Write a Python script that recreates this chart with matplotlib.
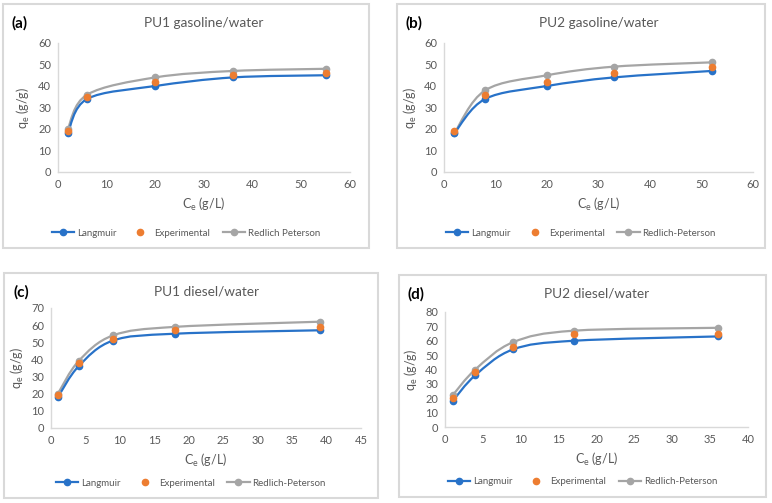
import matplotlib
matplotlib.use("Agg")
import matplotlib.pyplot as plt
from matplotlib.path import Path
from matplotlib.patches import PathPatch, Rectangle
from matplotlib.lines import Line2D
import numpy as np

plt.rcParams['font.family'] = ['Lato', 'DejaVu Sans']
plt.rcParams['mathtext.default'] = 'regular'

# ---------------- data ----------------
titles = ["PU1 gasoline/water", "PU2 gasoline/water", "PU1 diesel/water", "PU2 diesel/water"]
letters = ["(a)", "(b)", "(c)", "(d)"]

x_a = [2, 6, 20, 36, 55]
lang_a = [18, 34, 40, 44, 45]
exp_a = [19, 35, 42, 45, 46]
rp_a = [20, 36, 44, 47, 48]

x_b = [2, 8, 20, 33, 52]
lang_b = [18, 34, 40, 44, 47]
exp_b = [19, 36, 42, 46, 49]
rp_b = [18, 38, 45, 49, 51]

x_c = [1, 4, 9, 18, 39]
lang_c = [18, 36, 51, 55, 57]
exp_c = [19, 38, 52, 57, 59]
rp_c = [20, 39, 54, 59, 62]

x_d = [1, 4, 9, 17, 36]
lang_d = [18, 36, 54, 60, 63]
exp_d = [20, 38, 56, 65, 65]
rp_d = [22, 40, 59, 67, 69]

rp_names = ["Redlich Peterson", "Redlich-Peterson", "Redlich-Peterson", "Redlich-Peterson"]
xmax = [60, 60, 45, 40]
xstep = [10, 10, 5, 5]
ymax = [60, 60, 70, 80]

datasets = [(x_a, lang_a, exp_a, rp_a), (x_b, lang_b, exp_b, rp_b),
            (x_c, lang_c, exp_c, rp_c), (x_d, lang_d, exp_d, rp_d)]

# ---------------- layout (pixels) ----------------
W, H = 772, 503
borders = [(3, 4, 369, 248), (397, 4, 765, 248), (4, 273, 378, 498), (399, 275, 766, 497)]
axbox = [(58, 43, 350, 172), (444, 43, 753, 172), (51, 308, 361, 428), (445, 312, 748, 427)]

BLUE = "#2872C8"
ORANGE = "#ED7D31"
GRAY = "#A5A5A5"
TXT = "#595959"

fig = plt.figure(figsize=(W / 100, H / 100), dpi=100)
fig.patch.set_facecolor("white")


def fx(px):
    return px / W


def fy(py):
    return 1 - py / H


def smooth_path(xs, ys):
    xs = np.asarray(xs, float)
    ys = np.asarray(ys, float)
    pts = np.column_stack([xs, ys])
    n = len(pts)
    verts = [pts[0]]
    codes = [Path.MOVETO]
    for i in range(n - 1):
        p0 = pts[i - 1] if i > 0 else pts[i]
        p1 = pts[i]
        p2 = pts[i + 1]
        p3 = pts[i + 2] if i + 2 < n else pts[i + 1]
        c1 = p1 + (p2 - p0) / 6.0
        c2 = p2 - (p3 - p1) / 6.0
        verts += [c1, c2, p2]
        codes += [Path.CURVE4] * 3
    return Path(verts, codes)


for k in range(4):
    bl, bt, br, bb = borders[k]
    fig.patches.append(Rectangle((fx(bl), fy(bb)), fx(br - bl), (bb - bt) / H,
                                 transform=fig.transFigure, fill=False,
                                 edgecolor="#D9D9D9", linewidth=1.5))
    l, t, r, b = axbox[k]
    ax = fig.add_axes([fx(l), fy(b), fx(r - l), (b - t) / H])
    xs, la, ex, rp = datasets[k]

    ax.add_patch(PathPatch(smooth_path(xs, rp), facecolor="none", edgecolor=GRAY, lw=1.6, zorder=2))
    ax.plot(xs, rp, "o", color=GRAY, ms=4.5, zorder=3)
    ax.add_patch(PathPatch(smooth_path(xs, la), facecolor="none", edgecolor=BLUE, lw=1.6, zorder=2))
    ax.plot(xs, la, "o", color=BLUE, ms=4.5, zorder=3)
    ax.plot(xs, ex, "o", color=ORANGE, ms=4.5, zorder=4)

    ax.set_xlim(0, xmax[k])
    ax.set_ylim(0, ymax[k])
    ax.set_xticks(np.arange(0, xmax[k] + 1, xstep[k]))
    ax.set_yticks(np.arange(0, ymax[k] + 1, 10))
    ax.tick_params(length=0, labelsize=8, colors=TXT, pad=5)
    for s in ["top", "right"]:
        ax.spines[s].set_visible(False)
    for s in ["left", "bottom"]:
        ax.spines[s].set_color("#D9D9D9")
        ax.spines[s].set_linewidth(1.0)
    ax.set_xlabel("C$_e$ (g/L)", fontsize=9, color=TXT, labelpad=4)
    ax.set_ylabel("q$_e$ (g/g)", fontsize=9, color=TXT, labelpad=4)

    fig.text(fx((l + r) / 2), fy(bt + 19), titles[k], ha="center", va="center",
             fontsize=9.8, color=TXT)
    fig.text(fx(bl + 9), fy(bt + 19), letters[k], ha="left", va="center",
             fontsize=11, fontweight="bold", color="black")

    handles = [Line2D([], [], color=BLUE, lw=1.6, marker="o", ms=4.5),
               Line2D([], [], color=ORANGE, lw=0, marker="o", ms=4.5),
               Line2D([], [], color=GRAY, lw=1.6, marker="o", ms=4.5)]
    fig.legend(handles, ["Langmuir", "Experimental", rp_names[k]],
               loc="center", bbox_to_anchor=(fx((bl + br) / 2), fy(bb - 15)),
               ncol=3, frameon=False, fontsize=7, labelcolor=TXT,
               handlelength=2.3, handletextpad=0.3, columnspacing=1.3)

fig.savefig("out.png", dpi=100, facecolor="white")
